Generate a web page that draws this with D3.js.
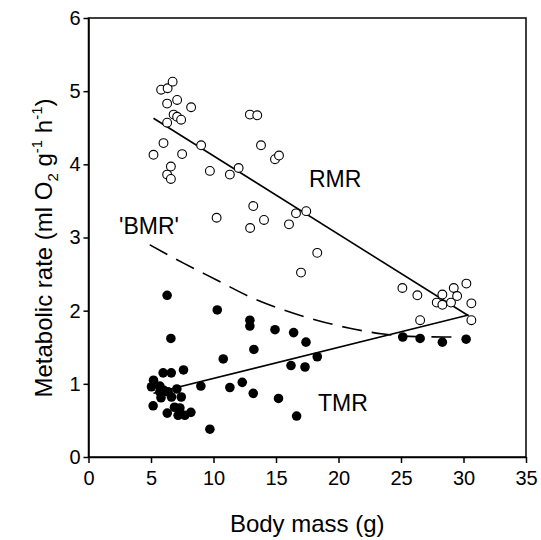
<!DOCTYPE html>
<html lang="en">
<head>
<meta charset="UTF-8">
<title>Metabolic rate vs body mass</title>
<script src="https://cdn.jsdelivr.net/npm/d3@7"></script>
<style>
  body { margin: 0; background: #fff; }
  svg text { font-family: Arial, "Liberation Sans", sans-serif; fill: #000; }
</style>
</head>
<body>
<svg id="chart" width="541" height="540"></svg>
<script>
// RMR (open circles): [body mass, rate]
var rmrMass = [5.81, 6.33, 6.73, 6.29, 7.09, 8.21, 6.81, 7.09, 7.41, 6.29, 6.00, 5.20, 7.49, 9.01, 6.59, 6.29,
  6.59, 9.71, 11.31, 12.01, 12.91, 13.50, 13.80, 14.92, 15.24, 13.18, 10.25, 12.93, 14.04, 16.04, 16.6, 17.42,
  18.3, 17.0, 25.11, 26.31, 26.53, 27.86, 28.31, 28.31, 29.0, 29.22, 29.49, 30.23, 30.63, 30.63]
var rmrRate = [5.02, 5.04, 5.13, 4.83, 4.88, 4.78, 4.68, 4.65, 4.61, 4.57, 4.29, 4.13, 4.14, 4.26, 3.97, 3.86,
  3.80, 3.91, 3.86, 3.95, 4.68, 4.67, 4.26, 4.07, 4.12, 3.43, 3.27, 3.13, 3.24, 3.18, 3.33, 3.36,
  2.79, 2.52, 2.31, 2.21, 1.87, 2.11, 2.22, 2.08, 2.11, 2.31, 2.20, 2.37, 2.10, 1.87]

// TMR (filled circles)
var tmrMass = [6.29, 6.59, 10.3, 12.91, 12.91, 14.92, 16.41, 17.4, 13.23, 18.3, 16.2, 17.32, 13.18, 15.2, 16.65,
  10.78, 7.6, 5.97, 6.62, 12.3, 11.31, 8.99, 9.71, 5.2, 5.04, 5.71, 6.03, 6.37, 7.07, 5.8, 7.42, 6.64,
  5.17, 6.3, 6.88, 7.31, 7.17, 7.71, 8.19, 25.14, 26.53, 28.31, 30.21, 5.71, 7.31]
var tmrRate = [2.21, 1.62, 2.01, 1.87, 1.79, 1.74, 1.70, 1.57, 1.47, 1.37, 1.25, 1.23, 0.87, 0.80, 0.56,
  1.34, 1.19, 1.15, 1.15, 1.02, 0.95, 0.97, 0.38, 1.05, 0.96, 0.97, 0.91, 0.89, 0.93, 0.81, 0.82, 0.82,
  0.70, 0.60, 0.68, 0.60, 0.57, 0.57, 0.61, 1.64, 1.62, 1.57, 1.61, 0.89, 0.67]

// fitted lines (end points) and 'BMR' curve
var rmrFitMass = [5.2, 30.4]
var rmrFitRate = [4.63, 1.93]
var tmrFitMass = [5.2, 30.4]
var tmrFitRate = [0.87, 1.94]
var bmrMass = [4.9, 7.6, 10.25, 12.9, 15.6, 18.25, 20.9, 23.6, 26.25, 29.5]
var bmrRate = [2.90, 2.65, 2.42, 2.19, 2.01, 1.87, 1.76, 1.68, 1.645, 1.64]

var xTicks = [0, 5, 10, 15, 20, 25, 30, 35]
var yTicks = [0, 1, 2, 3, 4, 5, 6]

var svg = d3.select('#chart')
var plotL = 88.5, plotR = 526, plotT = 18, plotB = 457

var x = d3.scaleLinear().domain([0, 35]).range([plotL, plotR])
var y = d3.scaleLinear().domain([0, 6]).range([plotB, plotT])

// frame
svg.append('rect')
  .attr('x', plotL).attr('y', plotT)
  .attr('width', plotR - plotL).attr('height', plotB - plotT)
  .attr('fill', 'none').attr('stroke', '#000').attr('stroke-width', 1.5)

var xAxis = svg.append('g')
  .attr('transform', 'translate(0,' + plotB + ')')
  .call(d3.axisBottom(x).tickValues(xTicks).tickFormat(d3.format('d'))
    .tickSize(6).tickSizeOuter(0).tickPadding(8))
var yAxis = svg.append('g')
  .attr('transform', 'translate(' + plotL + ',0)')
  .call(d3.axisLeft(y).tickValues(yTicks).tickFormat(d3.format('d'))
    .tickSize(5).tickSizeOuter(0).tickPadding(3))

;[xAxis, yAxis].forEach(function (g) {
  g.select('.domain').attr('stroke-width', 1.5)
  g.selectAll('.tick line').attr('stroke-width', 1.5)
  g.selectAll('.tick text').style('font-size', '20px')
  g.attr('font-family', null)
})

var line = d3.line().x(function (d) { return x(d[0]) }).y(function (d) { return y(d[1]) })

svg.append('path')
  .attr('d', line(d3.zip(rmrFitMass, rmrFitRate)))
  .attr('fill', 'none').attr('stroke', '#000').attr('stroke-width', 1.6)
svg.append('path')
  .attr('d', line(d3.zip(tmrFitMass, tmrFitRate)))
  .attr('fill', 'none').attr('stroke', '#000').attr('stroke-width', 1.6)
svg.append('path')
  .attr('d', line.curve(d3.curveMonotoneX)(d3.zip(bmrMass, bmrRate)))
  .attr('fill', 'none').attr('stroke', '#000').attr('stroke-width', 1.6)
  .attr('stroke-dasharray', '20,10')

// points
svg.append('g').selectAll('circle')
  .data(d3.zip(tmrMass, tmrRate))
  .join('circle')
  .attr('cx', function (d) { return x(d[0]) })
  .attr('cy', function (d) { return y(d[1]) })
  .attr('r', 4.8)
  .attr('fill', '#000')

svg.append('g').selectAll('circle')
  .data(d3.zip(rmrMass, rmrRate))
  .join('circle')
  .attr('cx', function (d) { return x(d[0]) })
  .attr('cy', function (d) { return y(d[1]) })
  .attr('r', 4.4)
  .attr('fill', '#fff').attr('stroke', '#000').attr('stroke-width', 1.1)

// labels
svg.append('text').attr('x', 309).attr('y', 187).style('font-size', '23px').text('RMR')
svg.append('text').attr('x', 119).attr('y', 234).style('font-size', '23px').text("'BMR'")
svg.append('text').attr('x', 318).attr('y', 411).style('font-size', '23px').text('TMR')

svg.append('text')
  .attr('x', (plotL + plotR) / 2).attr('y', 532)
  .attr('text-anchor', 'middle').style('font-size', '24px')
  .text('Body mass (g)')

var yl = svg.append('text')
  .attr('transform', 'translate(52,248) rotate(-90)')
  .attr('text-anchor', 'middle').style('font-size', '24px')
yl.append('tspan').text('Metabolic rate  (ml O')
yl.append('tspan').attr('dy', 6).style('font-size', '15px').text('2')
yl.append('tspan').attr('dy', -6).text(' g')
yl.append('tspan').attr('dy', -10).style('font-size', '15px').text('-1')
yl.append('tspan').attr('dy', 10).text(' h')
yl.append('tspan').attr('dy', -10).style('font-size', '15px').text('-1')
yl.append('tspan').attr('dy', 10).text(')')
</script>
</body>
</html>
